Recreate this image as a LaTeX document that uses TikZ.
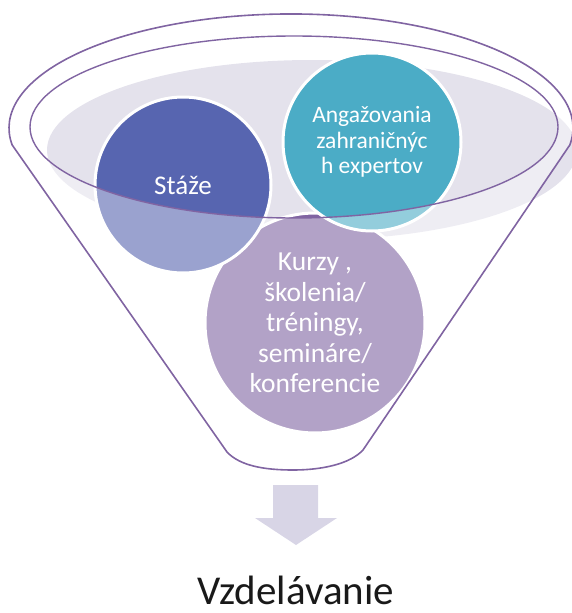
\documentclass[tikz,border=0pt]{standalone}
\usepackage{fontspec}
\setmainfont{Carlito}

\definecolor{funnelline}{RGB}{128,100,162}
\definecolor{funnelgray}{RGB}{228,226,236}
\definecolor{stazeblue}{RGB}{87,101,176}
\definecolor{angteal}{RGB}{75,172,198}
\definecolor{kurzypurple}{RGB}{128,100,162}
\definecolor{arrowgray}{RGB}{216,213,230}

\begin{document}
\begin{tikzpicture}[x=1pt, y=-1pt]
        \tikzstyle{fun_circle} = [shape = circle, draw = white, line width = 3pt, inner sep = 0pt, text = white, align = center]
        \tikzstyle{fun_line}   = [draw = funnelline, line width = 1.6pt]

        \useasboundingbox (0,0) rectangle (571,613);

        % background disc inside the funnel mouth
        \fill[funnelgray] (312,150) ellipse [x radius=265, y radius=90];

        \node[fun_circle, fill=kurzypurple, minimum size=220pt, font=\fontsize{27.5}{30.5}\selectfont] at (315,323) (c_kurzy)
          {Kurzy ,\\ školenia/\\ tréningy,\\ semináre/\\ konferencie};

        \node[fun_circle, fill=stazeblue, minimum size=176pt, font=\fontsize{27}{30}\selectfont] at (183,185) (c_staze)
          {Stáže};

        \node[fun_circle, fill=angteal, minimum size=178pt, font=\fontsize{23.5}{25.5}\selectfont] at (372,142) (c_ang)
          {Angažovania\\ zahraničnýc\\ h expertov};

        % funnel body, lightening all that lies outside the mouth
        \fill[white, opacity=0.4, even odd rule]
          (12.2,145) -- (227,452)
          .. controls (240,466) and (265,470) .. (293,470)
          .. controls (322,470) and (350,464) .. (363,450)
          -- (569.8,145) arc[start angle=8.6, end angle=-188.6, x radius=282, y radius=114] -- cycle
          (294,127) ellipse [x radius=264, y radius=91];

        \draw[fun_line]
          (12.2,145) -- (227,452)
          .. controls (240,466) and (265,470) .. (293,470)
          .. controls (322,470) and (350,464) .. (363,450)
          -- (569.8,145) arc[start angle=8.6, end angle=-188.6, x radius=282, y radius=114] -- cycle;
        \draw[fun_line, line width=1.4pt] (294,127) ellipse [x radius=264, y radius=91];

        % down arrow and result
        \fill[arrowgray] (273,485) -- (318,485) -- (318,518) -- (337,518) -- (296,545) -- (255,518) -- (273,518) -- cycle;

        \node[text = black!90, font=\fontsize{41}{45}\selectfont] at (296,590) (n_out) {Vzdelávanie};
      \end{tikzpicture}
\end{document}
